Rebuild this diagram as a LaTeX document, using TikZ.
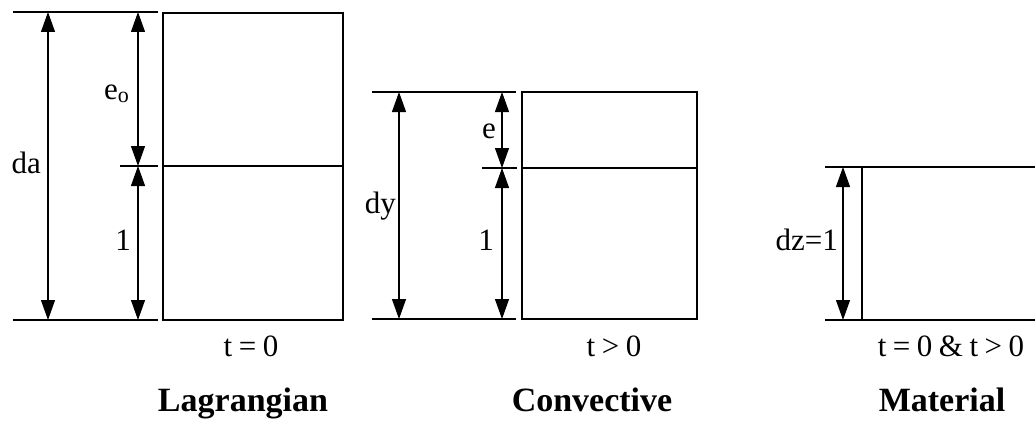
\documentclass[tikz,border=0pt]{standalone}
\usepackage{fontspec}
\setmainfont{Liberation Serif}
\usetikzlibrary{arrows.meta}
\tikzset{
  rule/.style={line width=1.5pt},
  box/.style={line width=1.5pt},
  dimline/.style={line width=1.2pt, {Triangle[width=14pt,length=20pt]}-{Triangle[width=14pt,length=20pt]}},
  lab/.style={font=\fontsize{31}{33}\selectfont, inner sep=0pt},
  ttl/.style={font=\fontsize{34}{37}\selectfont\bfseries, inner sep=0pt},
}
\newcommand{\gp}{\kern0.21em}
\begin{document}
\begin{tikzpicture}[x=1pt,y=-1pt]
\useasboundingbox (0,0) rectangle (1035,420);
% ---------- Panel 1: Lagrangian ----------
\coordinate (p1tl) at (13,12);  \coordinate (p1tr) at (158,12);
\coordinate (p1bl) at (13,320); \coordinate (p1br) at (158,320);
\coordinate (p1ml) at (120,166); \coordinate (p1mr) at (158,166);
\draw[rule] (p1tl) -- (p1tr);
\draw[rule] (p1bl) -- (p1br);
\draw[rule] (p1ml) -- (p1mr);
\coordinate (r1a) at (163,13); \coordinate (r1b) at (343,320);
\draw[box] (r1a) rectangle (r1b);
\coordinate (r1ml) at (163,166); \coordinate (r1mr) at (343,166);
\draw[box] (r1ml) -- (r1mr);
\coordinate (da1) at (48,12); \coordinate (da2) at (48,320);
\draw[dimline] (da1) -- (da2);
\coordinate (eo1) at (138,12); \coordinate (eo2) at (138,166); \coordinate (eo3) at (138,320);
\draw[dimline] (eo1) -- (eo2);
\draw[dimline] (eo2) -- (eo3);
\node[lab, anchor=base east] (lda) at (41,173) {da};
\node[lab, anchor=base east] (leo) at (129,99) {e\raisebox{-0.22ex}{\fontsize{22}{24}\selectfont o}};
\node[lab, anchor=base east] (l1a) at (131,250) {1};
\node[lab, anchor=base] (t0) at (251,356) {t\gp=\gp0};
\node[ttl, anchor=base] (lag) at (243,411) {Lagrangian};
% ---------- Panel 2: Convective ----------
\coordinate (p2tl) at (372,92);  \coordinate (p2tr) at (516,92);
\coordinate (p2bl) at (372,319); \coordinate (p2br) at (516,319);
\coordinate (p2ml) at (482,168); \coordinate (p2mr) at (517,168);
\draw[rule] (p2tl) -- (p2tr);
\draw[rule] (p2bl) -- (p2br);
\draw[rule] (p2ml) -- (p2mr);
\coordinate (r2a) at (522,92); \coordinate (r2b) at (697,319);
\draw[box] (r2a) rectangle (r2b);
\coordinate (r2ml) at (522,168); \coordinate (r2mr) at (697,168);
\draw[box] (r2ml) -- (r2mr);
\coordinate (dy1) at (399,92); \coordinate (dy2) at (399,319);
\draw[dimline] (dy1) -- (dy2);
\coordinate (e1) at (502,92); \coordinate (e2) at (502,168); \coordinate (e3) at (502,319);
\draw[dimline] (e1) -- (e2);
\draw[dimline] (e2) -- (e3);
\node[lab, anchor=base east] (ldy) at (396,213) {dy};
\node[lab, anchor=base east] (le) at (496,138) {e};
\node[lab, anchor=base east] (l1b) at (494,250) {1};
\node[lab, anchor=base] (tg) at (614,356) {t\gp>\gp0};
\node[ttl, anchor=base] (conv) at (592,411) {Convective};
% ---------- Panel 3: Material ----------
\coordinate (p3tl) at (825,167);  \coordinate (p3tr) at (1035,167);
\coordinate (p3bl) at (825,320);  \coordinate (p3br) at (1035,320);
\draw[rule] (p3tl) -- (p3tr);
\draw[rule] (p3bl) -- (p3br);
\coordinate (r3a) at (862,167); \coordinate (r3b) at (862,320);
\draw[box] (r3a) -- (r3b);
\coordinate (dz1) at (843,167); \coordinate (dz2) at (843,320);
\draw[dimline] (dz1) -- (dz2);
\node[lab, anchor=base east] (ldz) at (838,250) {dz=1};
\node[lab, anchor=base] (tb) at (951,356) {t\gp=\gp0\gp\&\gp t\gp>\gp0};
\node[ttl, anchor=base] (mat) at (942,411) {Material};
\end{tikzpicture}
\end{document}
